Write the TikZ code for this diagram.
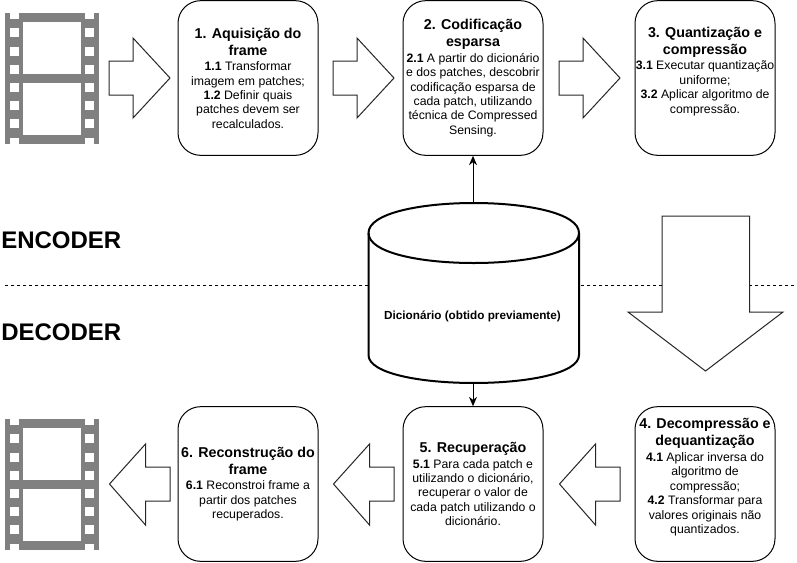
\documentclass[tikz,border=0pt]{standalone}
\usepackage{fontspec}
\setmainfont{Liberation Sans}
\usetikzlibrary{arrows.meta}
\newcommand{\ttl}{\fontsize{10.7}{10.8}\selectfont\bfseries}
\newcommand{\bdy}{\fontsize{9.2}{10.8}\selectfont\mdseries}
\newcommand{\num}[1]{\textbf{#1}}
\newcommand{\filmstrip}{%
  \fill[filmgrey] (5,13) rectangle (98.5,144);
  \fill[white] (23,22) rectangle (81,74);
  \fill[white] (23,83) rectangle (81,134.5);
  \foreach \yy in {28,46.5,64.5,82.5,101,119}{
    \fill[white] (10,\yy) rectangle (19,\yy+9);
    \fill[white] (85,\yy) rectangle (94,\yy+9);
  }
  \foreach \xx in {10,85}{
    \fill[white] (\xx,13) rectangle (\xx+9,19);
    \fill[white] (\xx,138) rectangle (\xx+9,144);
  }
}
\tikzset{
  x=0.75pt,y=-0.75pt,
  stepbox/.style={draw=black,fill=white,rounded corners=17pt,line width=0.75pt,
    minimum width=105pt,minimum height=116pt,inner sep=0pt,align=center,font=\bdy},
  blockarrow/.style={draw=black!85,fill=white,line width=0.75pt,line join=miter},
  sidetitle/.style={anchor=west,inner sep=0pt,font=\fontsize{18}{20}\selectfont\bfseries},
  cylline/.style={draw=black,fill=white,line width=1.5pt},
  link/.style={draw=black,line width=0.75pt,-{Stealth[length=7pt,width=6pt]}},
}
\definecolor{filmgrey}{RGB}{128,128,128}
\begin{document}
\begin{tikzpicture}
\useasboundingbox (0,0) rectangle (797,562);
\fill[white] (0,0) rectangle (797,562);

% separator
\coordinate (dashl) at (5,285);
\coordinate (dashr) at (795,285);
\draw[black,line width=0.75pt,dash pattern=on 2.25pt off 2.25pt] (dashl) -- (dashr);

\node[sidetitle] (enc) at (1,240) {ENCODER};
\node[sidetitle] (dec) at (1,332) {DECODER};

% film strips
\begin{scope}\filmstrip\end{scope}
\begin{scope}[shift={(0,406)}]\filmstrip\end{scope}

% top row block arrows
\draw[blockarrow] (109,61) -- (133,61) -- (133,38) -- (170,78) -- (133,118) -- (133,95) -- (109,95) -- cycle;
\draw[blockarrow] (333,61) -- (357,61) -- (357,38) -- (394,78) -- (357,118) -- (357,95) -- (333,95) -- cycle;
\draw[blockarrow] (559,61) -- (583,61) -- (583,38) -- (620,78) -- (583,118) -- (583,95) -- (559,95) -- cycle;

% bottom row block arrows
\draw[blockarrow] (170,467) -- (145.5,467) -- (145.5,444) -- (109.5,484) -- (145.5,525) -- (145.5,501) -- (170,501) -- cycle;
\draw[blockarrow] (394,467) -- (369.5,467) -- (369.5,444) -- (333.5,484) -- (369.5,525) -- (369.5,501) -- (394,501) -- cycle;
\draw[blockarrow] (620,467) -- (595.5,467) -- (595.5,444) -- (559.5,484) -- (595.5,525) -- (595.5,501) -- (620,501) -- cycle;

% big down arrow
\draw[blockarrow] (662,216) -- (749.5,216) -- (749.5,312) -- (783,312) -- (705.5,371) -- (628,312) -- (662,312) -- cycle;

% cylinder
\coordinate (cyltop) at (473,203);
\coordinate (cylbot) at (473,383);
\draw[cylline] (368.5,233) .. controls (368.5,193) and (579,193) .. (579,233)
  -- (579,355) .. controls (579,392.3) and (368.5,392.3) .. (368.5,355) -- cycle;
\draw[cylline,fill=none] (368.5,233) .. controls (368.5,273) and (579,273) .. (579,233);
\node[inner sep=0pt,font=\fontsize{8.8}{10.8}\selectfont\bfseries] (dict) at (472.5,316) {Dicionário (obtido previamente)};

% step boxes
\node[stepbox] (b1) at (248,78) {{\ttl 1. Aquisição do}\\[1.95pt]{\ttl frame}\\[0.9pt]
  \num{1.1} Transformar\\imagem em patches;\\\num{1.2} Definir quais\\patches devem ser\\recalculados.};
\node[stepbox] (b2) at (473,78) {{\ttl 2. Codificação}\\[1.95pt]{\ttl esparsa}\\[0.9pt]
  \num{2.1} A partir do dicionário\\e dos patches, descobrir\\codificação esparsa de\\cada patch, utilizando\\técnica de Compressed\\Sensing.};
\node[stepbox] (b3) at (705,78) {{\ttl 3. Quantização e}\\[1.95pt]{\ttl compressão}\\[0.9pt]
  \num{3.1} Executar quantização\\uniforme;\\\num{3.2} Aplicar algoritmo de\\compressão.\\[1.2pt]\mbox{}};
\node[stepbox] (b4) at (705,484) {{\ttl 4. Decompressão e}\\[1.95pt]{\ttl dequantização}\\[0.9pt]
  \num{4.1} Aplicar inversa do\\algoritmo de\\compressão;\\\num{4.2} Transformar para\\valores originais não\\quantizados.\\[1.2pt]\mbox{}};
\node[stepbox] (b5) at (473,484) {{\ttl 5. Recuperação}\\[0.9pt]
  \num{5.1} Para cada patch e\\utilizando o dicionário,\\recuperar o valor de\\cada patch utilizando o\\dicionário.};
\node[stepbox] (b6) at (248,484) {{\ttl 6. Reconstrução do}\\[1.95pt]{\ttl frame}\\[0.9pt]
  \num{6.1} Reconstroi frame a\\partir dos patches\\recuperados.};

% connectors
\draw[link] (cyltop) -- (b2.south);
\draw[link] (cylbot) -- (b5.north);
\end{tikzpicture}
\end{document}
